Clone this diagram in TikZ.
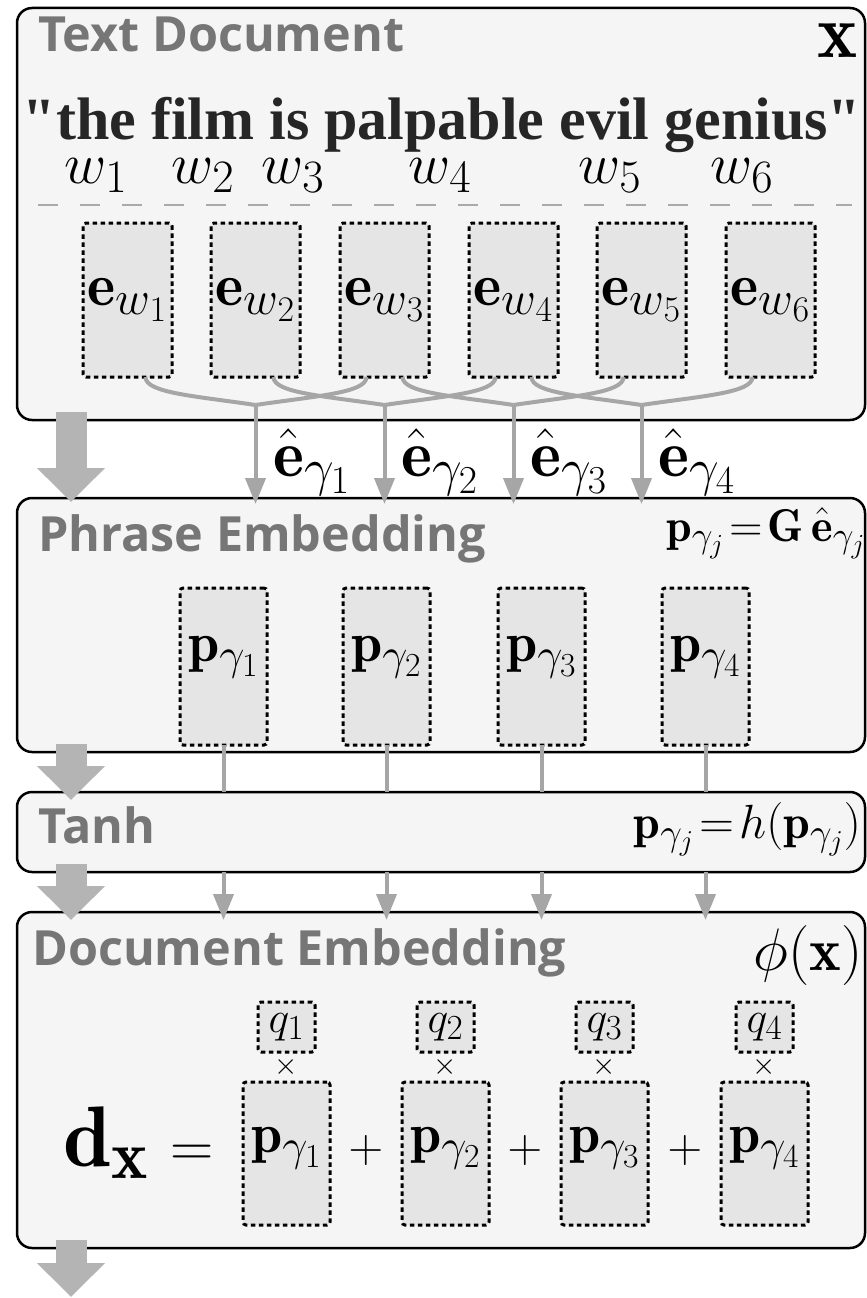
\RequirePackage{fix-cm}
\documentclass[tikz,border=0pt]{standalone}
\usepackage{amsmath}
\usepackage{fontspec}
\newfontfamily\ttlfont{Open Sans}
\newfontfamily\sntfont{Liberation Serif}
\renewcommand*\defaultscriptratio{.8}
\renewcommand*\defaultscriptscriptratio{.6}
\usetikzlibrary{arrows.meta}
\definecolor{ttlgray}{HTML}{767676}
\definecolor{arrgray}{HTML}{A6A6A6}
\definecolor{biggray}{HTML}{B4B4B4}
\definecolor{sepgray}{HTML}{AAAAAA}
\tikzset{
  panel/.style={draw=black,line width=2.5pt,fill=gray!8,rounded corners=15pt,inner sep=0pt,outer sep=0pt,anchor=north west,minimum width=848pt},
  vecblk/.style={draw=black,fill=gray!20,line width=3pt,dash pattern=on 4.5pt off 3.5pt,rounded corners=3pt,inner sep=0pt,outer sep=0pt,font=\fontsize{56}{60}\selectfont},
  eblk/.style={vecblk,minimum width=89pt,minimum height=154pt,font=\fontsize{60}{64}\selectfont},
  pblk/.style={vecblk,minimum width=87pt,minimum height=157pt,text depth=36pt},
  qblk/.style={vecblk,minimum width=57pt,minimum height=50pt,font=\fontsize{44}{48}\selectfont},
  ttl/.style={font=\fontsize{48.5}{52}\selectfont\ttlfont\bfseries,text=ttlgray,anchor=base west,inner sep=0pt},
  lbl/.style={font=\fontsize{66}{70}\selectfont,anchor=base,inner sep=0pt},
  wlbl/.style={font=\fontsize{58}{62}\selectfont,anchor=base,inner sep=0pt},
  frm/.style={font=\fontsize{46}{50}\selectfont,inner sep=0pt},
  snt/.style={font=\fontsize{60}{64}\selectfont\sntfont\bfseries,text=black!85,anchor=base,inner sep=0pt},
  sepline/.style={draw=sepgray,line width=2.5pt,dash pattern=on 20pt off 22pt},
  lnk/.style={draw=arrgray,line width=4pt},
  arr/.style={lnk,-{Triangle[width=20pt,length=26pt]}},
  bigarr/.style={draw=biggray,line width=31pt,-{Triangle[width=66pt,length=34pt]}}
}
\begin{document}
\begin{tikzpicture}[x=1pt,y=-1pt]
  \useasboundingbox (0,0) rectangle (867,1298);

  % the four stages
  \node[panel,minimum height=412pt] (txt) at (17,8) {};
  \node[panel,minimum height=254pt] (phr) at (17,498) {};
  \node[panel,minimum height=80pt] (tnh) at (17,792) {};
  \node[panel,minimum height=336pt] (doc) at (17,912) {};

  \node[ttl] (ttxt) at (38,52) {Text Document};
  \node[ttl] (tphr) at (38,551) {Phrase Embedding};
  \node[ttl] (ttnh) at (38,843) {Tanh};
  \node[ttl] (tdoc) at (32,965) {Document Embedding};

  % input text
  \node[lbl,font=\fontsize{76}{80}\selectfont,anchor=base east] (xin) at (858,58) {$\mathbf{x}$};
  \node[snt] (sent) at (442,139) {"the film is palpable evil genius"};
  \node[wlbl] (w1) at (96,183) {$w_1$};
  \node[wlbl] (w2) at (203,183) {$w_2$};
  \node[wlbl] (w3) at (293,183) {$w_3$};
  \node[wlbl] (w4) at (440,183) {$w_4$};
  \node[wlbl] (w5) at (610,183) {$w_5$};
  \node[wlbl] (w6) at (742,183) {$w_6$};
  \draw[sepline] (38,205) -- (852,205);

  % word vectors
  \node[eblk] (e1) at (127.5,300) {$\mathbf{e}_{w_1}$};
  \node[eblk] (e2) at (255.5,300) {$\mathbf{e}_{w_2}$};
  \node[eblk] (e3) at (384.5,300) {$\mathbf{e}_{w_3}$};
  \node[eblk] (e4) at (513.5,300) {$\mathbf{e}_{w_4}$};
  \node[eblk] (e5) at (641.5,300) {$\mathbf{e}_{w_5}$};
  \node[eblk] (e6) at (770.5,300) {$\mathbf{e}_{w_6}$};

  \coordinate (m1) at (255.5,405);
  \coordinate (m2) at (384.5,405);
  \coordinate (m3) at (513.5,405);
  \coordinate (m4) at (641.5,405);

  \draw[lnk] ([xshift=18pt]e1.south) .. controls +(0,16) and +(-60,-9) .. (m1);
  \draw[lnk] ([xshift=-18pt]e3.south) .. controls +(0,16) and +(60,-9) .. (m1);
  \draw[lnk] ([xshift=18pt]e2.south) .. controls +(0,16) and +(-60,-9) .. (m2);
  \draw[lnk] ([xshift=-18pt]e4.south) .. controls +(0,16) and +(60,-9) .. (m2);
  \draw[lnk] ([xshift=18pt]e3.south) .. controls +(0,16) and +(-60,-9) .. (m3);
  \draw[lnk] ([xshift=-18pt]e5.south) .. controls +(0,16) and +(60,-9) .. (m3);
  \draw[lnk] ([xshift=18pt]e4.south) .. controls +(0,16) and +(-60,-9) .. (m4);
  \draw[lnk] ([xshift=-18pt]e6.south) .. controls +(0,16) and +(60,-9) .. (m4);

  \draw[arr,shorten >=-6pt] (m1) -- (m1 |- phr.north);
  \draw[arr,shorten >=-6pt] (m2) -- (m2 |- phr.north);
  \draw[arr,shorten >=-6pt] (m3) -- (m3 |- phr.north);
  \draw[arr,shorten >=-6pt] (m4) -- (m4 |- phr.north);
  \node[lbl,anchor=base west] (eh1) at (273,476) {$\hat{\mathbf{e}}_{\gamma_1}$};
  \node[lbl,anchor=base west] (eh2) at (401,476) {$\hat{\mathbf{e}}_{\gamma_2}$};
  \node[lbl,anchor=base west] (eh3) at (530,476) {$\hat{\mathbf{e}}_{\gamma_3}$};
  \node[lbl,anchor=base west] (eh4) at (658,476) {$\hat{\mathbf{e}}_{\gamma_4}$};

  % phrase vectors
  \node[frm,anchor=base west] (pform) at (666,541) {$\mathbf{p}_{\gamma_j}\!=\!\mathbf{G}\,\hat{\mathbf{e}}_{\gamma_j}$};
  \node[pblk] (p1) at (223.5,666.5) {$\mathbf{p}_{\gamma_1}$};
  \node[pblk] (p2) at (386.5,666.5) {$\mathbf{p}_{\gamma_2}$};
  \node[pblk] (p3) at (541.5,666.5) {$\mathbf{p}_{\gamma_3}$};
  \node[pblk] (p4) at (705.5,666.5) {$\mathbf{p}_{\gamma_4}$};

  \draw[lnk] (p1.south) -- (p1.south |- tnh.north);
  \draw[lnk] (p2.south) -- (p2.south |- tnh.north);
  \draw[lnk] (p3.south) -- (p3.south |- tnh.north);
  \draw[lnk] (p4.south) -- (p4.south |- tnh.north);

  % nonlinearity
  \node[frm,font=\fontsize{48}{52}\selectfont,anchor=base east] (tform) at (861,838) {$\mathbf{p}_{\gamma_j}\!=\!h(\mathbf{p}_{\gamma_j})$};
  \draw[arr,shorten >=-8pt] (p1.south |- tnh.south) -- (p1.south |- doc.north);
  \draw[arr,shorten >=-8pt] (p2.south |- tnh.south) -- (p2.south |- doc.north);
  \draw[arr,shorten >=-8pt] (p3.south |- tnh.south) -- (p3.south |- doc.north);
  \draw[arr,shorten >=-8pt] (p4.south |- tnh.south) -- (p4.south |- doc.north);

  % weighted sum
  \node[frm,font=\fontsize{60}{64}\selectfont,anchor=base east] (phi) at (863,970) {$\phi(\mathbf{x})$};
  \node[qblk] (q1) at (286.5,1027) {$q_1$};
  \node[qblk] (q2) at (445.5,1027) {$q_2$};
  \node[qblk] (q3) at (604.5,1027) {$q_3$};
  \node[qblk] (q4) at (764.5,1027) {$q_4$};
  \node[lbl,font=\fontsize{30}{32}\selectfont,anchor=center] (x1) at (286.5,1067) {$\times$};
  \node[lbl,font=\fontsize{30}{32}\selectfont,anchor=center] (x2) at (445.5,1067) {$\times$};
  \node[lbl,font=\fontsize{30}{32}\selectfont,anchor=center] (x3) at (604.5,1067) {$\times$};
  \node[lbl,font=\fontsize{30}{32}\selectfont,anchor=center] (x4) at (764.5,1067) {$\times$};
  \node[pblk,minimum height=143pt,text depth=28pt] (s1) at (286.5,1153.5) {$\mathbf{p}_{\gamma_1}$};
  \node[pblk,minimum height=143pt,text depth=28pt] (s2) at (445.5,1153.5) {$\mathbf{p}_{\gamma_2}$};
  \node[pblk,minimum height=143pt,text depth=28pt] (s3) at (604.5,1153.5) {$\mathbf{p}_{\gamma_3}$};
  \node[pblk,minimum height=143pt,text depth=28pt] (s4) at (764.5,1153.5) {$\mathbf{p}_{\gamma_4}$};
  \node[lbl,font=\fontsize{48}{52}\selectfont] (pl1) at (366,1162) {$+$};
  \node[lbl,font=\fontsize{48}{52}\selectfont] (pl2) at (525,1162) {$+$};
  \node[lbl,font=\fontsize{48}{52}\selectfont] (pl3) at (685,1162) {$+$};
  \node[lbl,font=\fontsize{86}{90}\selectfont,anchor=base west] (dx) at (63,1166) {$\mathbf{d}_{\mathbf{x}}$};
  \node[lbl,font=\fontsize{60}{64}\selectfont,anchor=base west] (eq) at (170,1166) {$=$};

  % flow between stages
  \coordinate (outp) at (71,1297);
  \draw[bigarr,shorten <=-8pt,shorten >=-4pt] ([xshift=54pt]txt.south west) -- ([xshift=54pt]phr.north west);
  \draw[bigarr,shorten <=-8pt,shorten >=-8pt] ([xshift=54pt]phr.south west) -- ([xshift=54pt]tnh.north west);
  \draw[bigarr,shorten <=-8pt,shorten >=-8pt] ([xshift=54pt]tnh.south west) -- ([xshift=54pt]doc.north west);
  \draw[bigarr,shorten <=-8pt] ([xshift=54pt]doc.south west) -- (outp);
\end{tikzpicture}
\end{document}
